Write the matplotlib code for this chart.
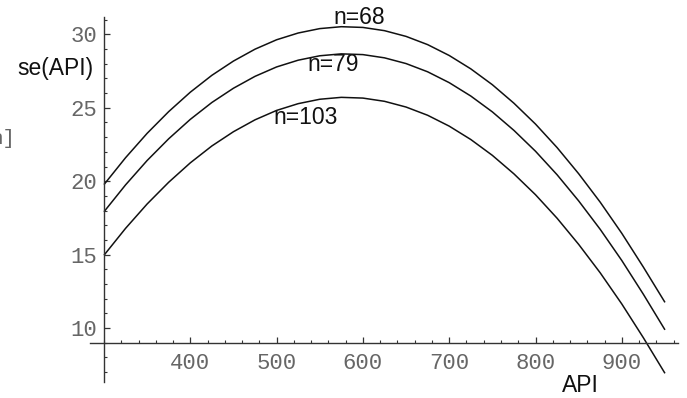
import matplotlib
matplotlib.use("Agg")
import matplotlib.pyplot as plt

# Data
api = [300, 325, 350, 375, 400, 425, 450, 475, 500, 525, 550, 575, 600, 625,
       650, 675, 700, 725, 750, 775, 800, 825, 850, 875, 900, 925, 950]
se_n68 = [19.77, 21.60, 23.26, 24.74, 26.06, 27.21, 28.18, 28.99, 29.63, 30.09,
          30.39, 30.52, 30.47, 30.25, 29.86, 29.30, 28.56, 27.65, 26.57, 25.31,
          23.89, 22.29, 20.51, 18.57, 16.45, 14.15, 11.75]
se_n79 = [17.92, 19.75, 21.41, 22.89, 24.21, 25.36, 26.33, 27.14, 27.78, 28.24,
          28.54, 28.67, 28.62, 28.40, 28.01, 27.45, 26.71, 25.80, 24.72, 23.46,
          22.04, 20.44, 18.66, 16.72, 14.60, 12.30, 9.88]
se_n103 = [14.96, 16.79, 18.45, 19.93, 21.25, 22.40, 23.37, 24.18, 24.82, 25.28,
           25.58, 25.71, 25.66, 25.44, 25.05, 24.49, 23.75, 22.84, 21.76, 20.50,
           19.08, 17.48, 15.70, 13.76, 11.64, 9.34, 6.92]
series_labels = ["n=68", "n=79", "n=103"]
label_pos = [(596, 31.18), (566, 27.93), (534, 24.31)]
xticks = [400, 500, 600, 700, 800, 900]
yticks = [10, 15, 20, 25, 30]

W, H = 687, 398
fig = plt.figure(figsize=(W / 100, H / 100), dpi=100)
fig.patch.set_facecolor("white")

def fx(px):
    return px / W

def fy(py):
    return 1 - py / H

ax = fig.add_axes([fx(90), fy(381.7), (678 - 90) / W, (381.7 - 17.3) / H])
ax.set_xlim(283.8, 965.1)
ax.set_ylim(6.35, 31.16)
ax.patch.set_alpha(0)

for ys in (se_n68, se_n79, se_n103):
    ax.plot(api, ys, color="#111111", lw=1.1, solid_capstyle="butt")

sans = ["Liberation Sans", "DejaVu Sans"]
mono = ["Liberation Mono", "DejaVu Sans Mono"]
for lab, (x, y) in zip(series_labels, label_pos):
    ax.text(x, y, lab, ha="center", va="center", fontsize=16.5,
            family=sans, color="#111111", clip_on=False)

for s in ("top", "right"):
    ax.spines[s].set_visible(False)
ax.spines["left"].set_position(("data", 300))
ax.spines["bottom"].set_position(("data", 9))
for s in ("left", "bottom"):
    ax.spines[s].set_linewidth(1.0)
    ax.spines[s].set_color("#333333")

ax.set_xticks(xticks)
ax.set_yticks(yticks)
ax.set_xticks([x for x in range(300, 961, 20) if x not in xticks], minor=True)
ax.set_yticks([y for y in range(7, 32) if y not in yticks], minor=True)
ax.tick_params(which="major", direction="in", length=4, width=0.9, color="#333333",
               labelsize=16, labelcolor="#666666", pad=6)
ax.tick_params(which="minor", direction="in", length=2.2, width=0.8, color="#333333")
for t in ax.get_xticklabels() + ax.get_yticklabels():
    t.set_family(mono)
ax.tick_params(axis="x", pad=7)
ax.tick_params(axis="y", pad=5)

fig.text(fx(55), fy(69), "se(API)", ha="center", va="center", fontsize=16.5,
         family=sans, color="#111111")
fig.text(fx(580), fy(386), "API", ha="center", va="center", fontsize=16.5,
         family=sans, color="#111111")
fig.text(fx(15), fy(139), "n]", ha="right", va="center", fontsize=15,
         family=mono, color="#666666")

fig.savefig("out.png", dpi=100)
